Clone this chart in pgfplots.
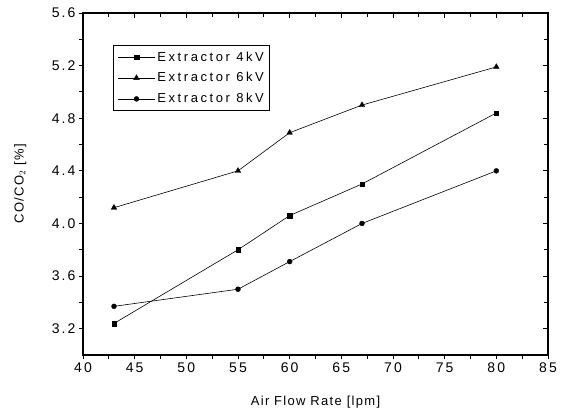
\documentclass[border=0pt]{standalone}
\usepackage{pgfplots}
\pgfplotsset{compat=1.18}
\usepackage{fontspec}
\setmainfont{Liberation Sans}
\newfontfamily\ticksfont[LetterSpace=15]{Liberation Sans}
\newfontfamily\labelfont[LetterSpace=10]{Liberation Sans}
\newfontfamily\legfont[LetterSpace=20]{Liberation Sans}
\begin{document}
\begin{tikzpicture}
\path[use as bounding box] (-83pt,-63pt) rectangle (480pt,355pt);
% ticks on top and right, pointing in
\begin{axis}[
    scale only axis, width=465pt, height=342pt,
    xmin=40, xmax=85, ymin=3.0, ymax=5.6,
    xtick={40,45,...,85}, ytick={3.2,3.6,...,5.6},
    minor x tick num=1, minor y tick num=1,
    tick align=inside, xtick pos=upper, ytick pos=right,
    xticklabels={}, yticklabels={},
    major tick length=5pt, minor tick length=4pt,
    axis line style={line width=1.2pt},
    every tick/.style={black, line width=0.9pt},
]
\end{axis}
\begin{axis}[
    scale only axis, width=465pt, height=342pt,
    xmin=40, xmax=85, ymin=3.0, ymax=5.6,
    xtick={40,45,...,85}, ytick={3.2,3.6,...,5.6},
    minor x tick num=1, minor y tick num=1,
    tick align=outside, xtick pos=lower, ytick pos=left,
    major tick length=4pt, minor tick length=3.5pt,
    axis line style={line width=1.2pt},
    every tick/.style={black, line width=0.9pt},
    /pgf/number format/assume math mode=true,
    /pgf/number format/.cd, fixed, fixed zerofill, precision=1, /pgfplots/.cd,
    xticklabel={\pgfmathprintnumber[precision=0,fixed zerofill=false]{\tick}},
    tick label style={font=\ticksfont\fontsize{14}{16}\selectfont},
    xlabel={Air Flow Rate [lpm]},
    ylabel={CO/CO$_2$ [\%]},
    every axis x label/.style={at={(axis description cs:0.5,-0.137)}, anchor=center,
        font=\labelfont\fontsize{13}{15}\selectfont},
    every axis y label/.style={at={(axis description cs:-0.135,0.5)}, rotate=90, anchor=center,
        font=\labelfont\fontsize{13}{15}\selectfont},
    legend cell align=left,
    legend style={at={(0.065,0.906)}, anchor=north west, draw=black,
        line width=0.9pt, font=\legfont\fontsize{13}{15}\selectfont,
        row sep=6pt, inner sep=4pt},
    legend image code/.code={\draw[mark repeat=2,mark phase=2,#1]
        plot coordinates {(0cm,0cm) (0.65cm,0cm) (1.3cm,0cm)};},
]
\addplot[black, line width=0.6pt, mark=square*, mark size=2.3pt,
    mark options={solid, line width=0.3pt}]
coordinates {(43,3.24) (55,3.80) (60,4.06) (67,4.30) (80,4.84)};
\addlegendentry{Extractor 4kV}
\addplot[black, line width=0.6pt, mark=triangle*, mark size=3.3pt,
    mark options={solid, line width=0.3pt}]
coordinates {(43,4.12) (55,4.40) (60,4.69) (67,4.90) (80,5.19)};
\addlegendentry{Extractor 6kV}
\addplot[black, line width=0.6pt, mark=*, mark size=2.5pt,
    mark options={solid, line width=0.3pt}]
coordinates {(43,3.37) (55,3.50) (60,3.71) (67,4.00) (80,4.40)};
\addlegendentry{Extractor 8kV}
\end{axis}
\end{tikzpicture}
\end{document}
